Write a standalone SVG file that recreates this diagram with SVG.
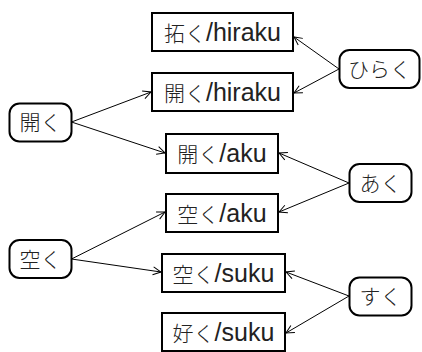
<svg xmlns="http://www.w3.org/2000/svg" width="422" height="352" viewBox="0 0 422 352">
<style>
.box{fill:#fff;stroke:#000;stroke-width:2}
.node{fill:#fff;stroke:#000;stroke-width:2}
.lbl{font-family:"Liberation Sans","Noto Sans CJK JP",sans-serif;font-size:25px;fill:#222;text-anchor:middle}
.cjk{font-family:"Noto Sans CJK JP",sans-serif;font-size:21px;font-weight:300}
.nl{font-family:"Noto Sans CJK JP",sans-serif;font-size:21px;font-weight:300;fill:#222;text-anchor:middle}
.edge{stroke:#000;stroke-width:1;fill:none;marker-end:url(#ah)}
</style>
<defs>
<marker id="ah" markerUnits="userSpaceOnUse" markerWidth="10" markerHeight="10" refX="9" refY="5" orient="auto">
<path d="M1,1 L9,5 L1,9" fill="none" stroke="#000" stroke-width="1"/>
</marker>
</defs>
<rect width="422" height="352" fill="#fff"/>
<g id="connectors">
<line class="edge" x1="71.5" y1="122" x2="151" y2="92"/>
<line class="edge" x1="71.5" y1="122" x2="165" y2="153"/>
<line class="edge" x1="71.5" y1="259" x2="165" y2="212"/>
<line class="edge" x1="71.5" y1="259" x2="161" y2="272"/>
<line class="edge" x1="339" y1="69" x2="294" y2="37"/>
<line class="edge" x1="339" y1="69" x2="294" y2="93"/>
<line class="edge" x1="349" y1="183" x2="279" y2="153"/>
<line class="edge" x1="349" y1="183" x2="279" y2="212"/>
<line class="edge" x1="349" y1="296" x2="286" y2="272"/>
<line class="edge" x1="349" y1="296" x2="286" y2="333"/>
</g>
<g id="box-hiraku1"><rect class="box" x="152" y="13" width="141" height="38"/><text class="lbl" x="222.5" y="41"><tspan class="cjk">拓く</tspan>/hiraku</text></g>
<g id="box-hiraku2"><rect class="box" x="152" y="73" width="141" height="38"/><text class="lbl" x="222.5" y="101"><tspan class="cjk">開く</tspan>/hiraku</text></g>
<g id="box-aku1"><rect class="box" x="166" y="134" width="112" height="39"/><text class="lbl" x="222" y="162"><tspan class="cjk">開く</tspan>/aku</text></g>
<g id="box-aku2"><rect class="box" x="166" y="194" width="112" height="38"/><text class="lbl" x="222" y="222"><tspan class="cjk">空く</tspan>/aku</text></g>
<g id="box-suku1"><rect class="box" x="162" y="254" width="123" height="38"/><text class="lbl" x="223.5" y="282"><tspan class="cjk">空く</tspan>/suku</text></g>
<g id="box-suku2"><rect class="box" x="162" y="313" width="123" height="38"/><text class="lbl" x="223.5" y="341"><tspan class="cjk">好く</tspan>/suku</text></g>
<g id="node-hiraku-kanji"><rect class="node" x="9.5" y="103.5" width="62" height="38" rx="10"/><text class="nl" x="40.5" y="130">開く</text></g>
<g id="node-suku-kanji"><rect class="node" x="9.5" y="240" width="62" height="38" rx="10"/><text class="nl" x="40.5" y="266.5">空く</text></g>
<g id="node-hiraku"><rect class="node" x="339.5" y="50" width="80" height="38" rx="10"/><text class="nl" x="379.5" y="76.5">ひらく</text></g>
<g id="node-aku"><rect class="node" x="349.5" y="164" width="62" height="38" rx="10"/><text class="nl" x="380.5" y="190.5">あく</text></g>
<g id="node-suku"><rect class="node" x="349.5" y="277.5" width="62" height="38" rx="10"/><text class="nl" x="380.5" y="304">すく</text></g>
</svg>
